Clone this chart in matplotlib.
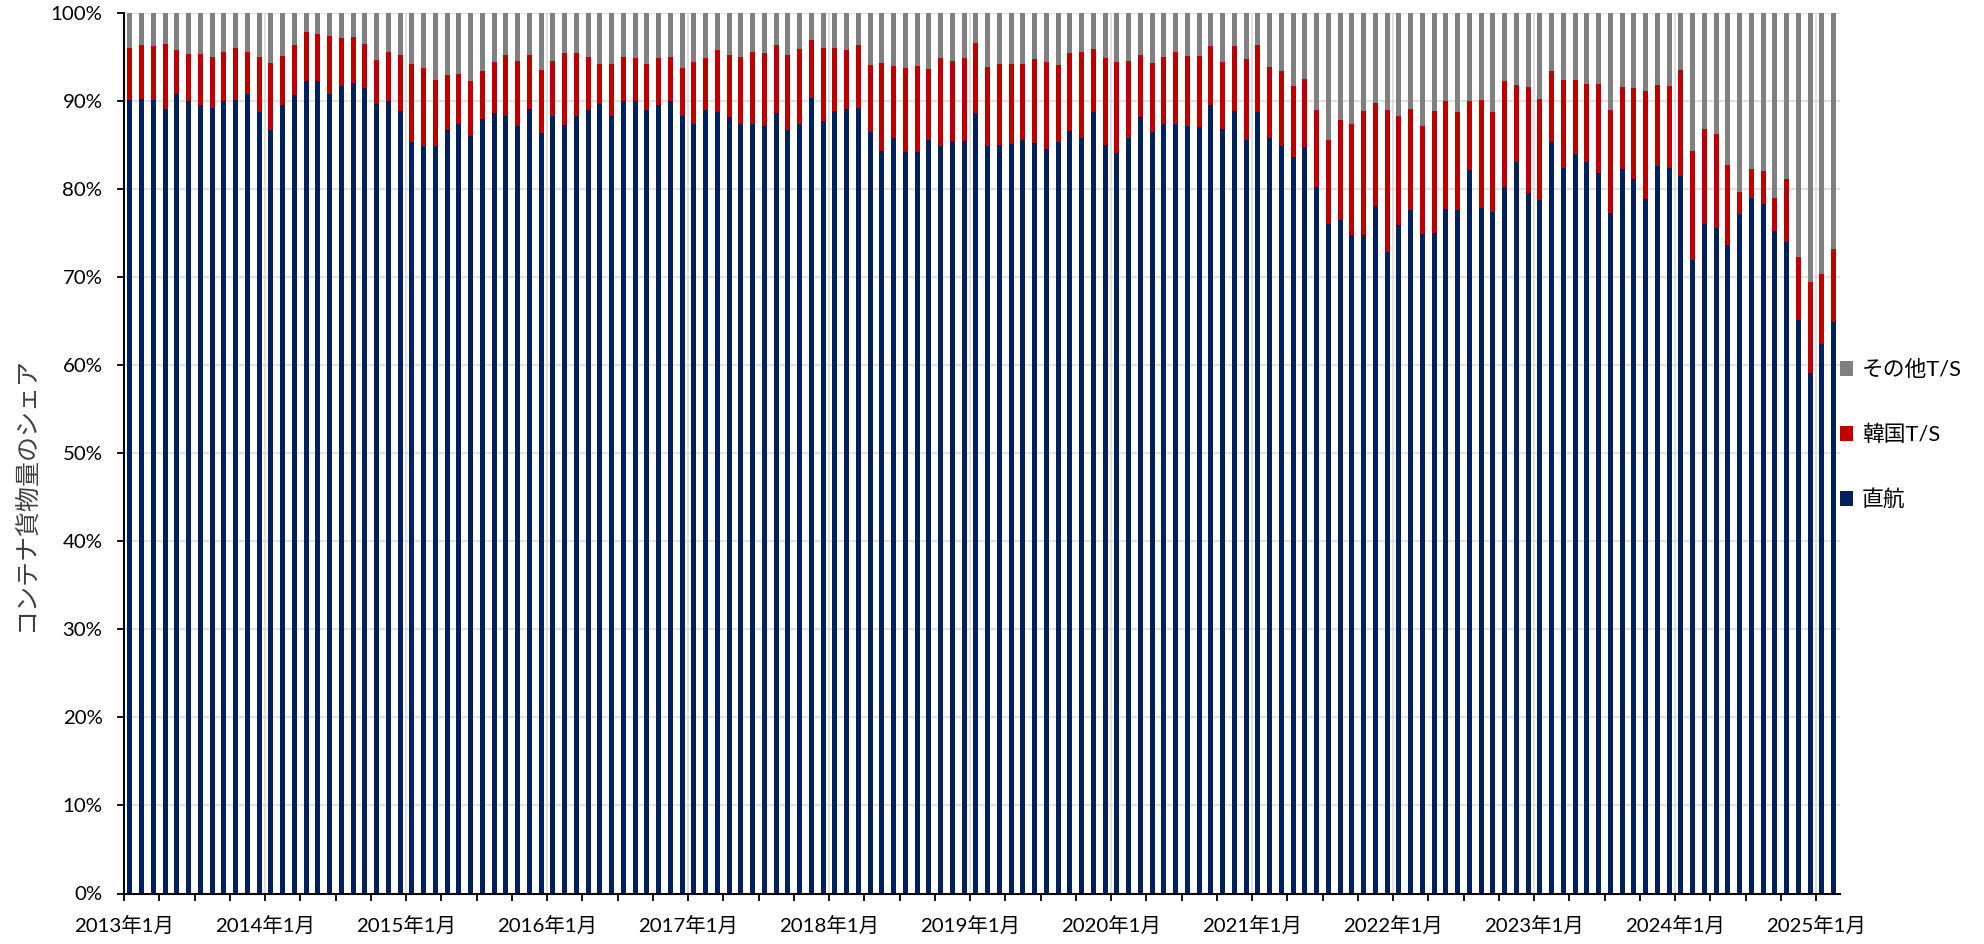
import numpy as np
import matplotlib
matplotlib.use("Agg")
import matplotlib.pyplot as plt
from matplotlib.ticker import FixedLocator

plt.rcParams['font.family'] = ['Lato', 'Noto Sans CJK JP', 'DejaVu Sans']

# Monthly shares (%), 2013-01 .. 2025-02
direct = [
    90.1, 90.2, 90.1, 89.1, 90.8, 90.0, 89.5, 89.2, 89.9, 90.1, 90.7, 88.7,
    86.7, 89.5, 90.6, 92.2, 92.2, 90.8, 91.7, 92.0, 91.4, 89.6, 90.0, 88.8,
    85.3, 84.9, 84.8, 86.7, 87.3, 86.0, 87.9, 88.6, 88.3, 87.1, 89.1, 86.3,
    88.2, 87.2, 88.2, 88.9, 89.6, 88.2, 90.0, 90.0, 88.9, 89.5, 90.0, 88.2,
    87.4, 88.9, 88.7, 88.1, 87.3, 87.3, 87.1, 88.6, 86.7, 87.3, 90.3, 87.7,
    88.8, 89.0, 89.2, 86.4, 84.3, 85.8, 84.2, 84.2, 85.5, 84.9, 85.4, 85.4,
    88.6, 84.8, 85.0, 85.1, 85.5, 85.2, 84.5, 85.3, 86.5, 85.7, 88.7, 85.0,
    84.0, 85.7, 88.1, 86.4, 87.4, 87.3, 87.1, 87.0, 89.5, 86.8, 88.8, 85.5,
    88.7, 85.8, 84.9, 83.6, 84.7, 80.2, 76.0, 76.5, 74.7, 74.8, 78.0, 72.8,
    75.9, 77.6, 74.9, 75.0, 77.7, 77.6, 82.1, 77.8, 77.4, 80.2, 83.0, 79.5,
    78.7, 85.3, 82.4, 83.9, 83.0, 81.8, 77.2, 82.2, 81.1, 78.8, 82.6, 82.3,
    81.4, 71.9, 76.0, 75.5, 73.6, 77.1, 78.9, 78.3, 75.2, 74.0, 65.1, 59.1,
    62.4, 64.9,
]
korea_ts = [
    5.9, 6.1, 6.1, 7.3, 4.9, 5.3, 5.8, 5.8, 5.6, 5.9, 4.8, 6.3,
    7.6, 5.6, 5.7, 5.6, 5.4, 6.5, 5.4, 5.2, 5.0, 5.0, 5.5, 6.4,
    8.9, 8.8, 7.5, 6.2, 5.7, 6.2, 5.5, 5.8, 6.9, 7.4, 6.1, 7.2,
    6.3, 8.2, 7.2, 6.0, 4.6, 5.9, 5.0, 4.8, 5.2, 5.3, 5.0, 5.5,
    7.0, 5.9, 7.0, 7.1, 7.7, 8.2, 8.3, 7.7, 8.5, 8.6, 6.6, 8.3,
    7.2, 6.8, 7.1, 7.6, 10.0, 8.1, 9.5, 9.7, 8.1, 9.9, 9.1, 9.4,
    7.9, 9.0, 9.2, 9.0, 8.6, 9.5, 9.9, 8.7, 8.9, 9.8, 7.2, 9.8,
    10.4, 8.8, 7.1, 7.9, 7.5, 8.2, 8.0, 8.1, 6.7, 7.6, 7.4, 9.2,
    7.6, 8.0, 8.5, 8.1, 7.8, 8.7, 9.5, 11.3, 12.7, 14.0, 11.7, 16.1,
    12.3, 11.5, 12.2, 13.8, 12.2, 11.1, 7.9, 12.3, 11.3, 12.0, 8.8, 12.1,
    11.5, 8.1, 9.9, 8.4, 8.9, 10.1, 11.7, 9.4, 10.3, 12.3, 9.2, 9.4,
    12.1, 12.4, 10.8, 10.7, 9.1, 2.5, 3.3, 3.7, 3.7, 7.1, 7.1, 10.3,
    7.9, 8.3,
]
other_ts = [
    4.0, 3.7, 3.8, 3.6, 4.3, 4.7, 4.7, 5.0, 4.5, 4.0, 4.5, 5.0,
    5.7, 4.9, 3.7, 2.2, 2.4, 2.7, 2.9, 2.8, 3.6, 5.4, 4.5, 4.8,
    5.8, 6.3, 7.7, 7.1, 7.0, 7.8, 6.6, 5.6, 4.8, 5.5, 4.8, 6.5,
    5.5, 4.6, 4.6, 5.1, 5.8, 5.9, 5.0, 5.2, 5.9, 5.2, 5.0, 6.3,
    5.6, 5.2, 4.3, 4.8, 5.0, 4.5, 4.6, 3.7, 4.8, 4.1, 3.1, 4.0,
    4.0, 4.2, 3.7, 6.0, 5.7, 6.1, 6.3, 6.1, 6.4, 5.2, 5.5, 5.2,
    3.5, 6.2, 5.8, 5.9, 5.9, 5.3, 5.6, 6.0, 4.6, 4.5, 4.1, 5.2,
    5.6, 5.5, 4.8, 5.7, 5.1, 4.5, 4.9, 4.9, 3.8, 5.6, 3.8, 5.3,
    3.7, 6.2, 6.6, 8.3, 7.5, 11.1, 14.5, 12.2, 12.6, 11.2, 10.3, 11.1,
    11.8, 10.9, 12.9, 11.2, 10.1, 11.3, 10.0, 9.9, 11.3, 7.8, 8.2, 8.4,
    9.8, 6.6, 7.7, 7.7, 8.1, 8.1, 11.1, 8.4, 8.6, 8.9, 8.2, 8.3,
    6.5, 15.7, 13.2, 13.8, 17.3, 20.4, 17.8, 18.0, 21.1, 18.9, 27.8, 30.6,
    29.7, 26.8,
]
year_labels = ['2013年1月', '2014年1月', '2015年1月', '2016年1月', '2017年1月',
               '2018年1月', '2019年1月', '2020年1月', '2021年1月', '2022年1月',
               '2023年1月', '2024年1月', '2025年1月']
series_names = ['直航', '韓国T/S', 'その他T/S']
colors = ['#002060', '#C00000', '#808080']
y_ticks = [0, 10, 20, 30, 40, 50, 60, 70, 80, 90, 100]

W, H = 1984, 944
fig = plt.figure(figsize=(W / 100, H / 100), dpi=100)
ax = fig.add_axes([124 / W, 1 - 893.5 / H, (1839.5 - 124) / W, (893.5 - 12.5) / H])

d = np.array(direct)
k = np.array(korea_ts)
o = np.array(other_ts)
x = np.arange(len(d))
bw = 0.42
b1 = ax.bar(x, d, width=bw, color=colors[0], zorder=3)
b2 = ax.bar(x, k, bottom=d, width=bw, color=colors[1], zorder=3)
b3 = ax.bar(x, o, bottom=d + k, width=bw, color=colors[2], zorder=3)

ax.set_xlim(-0.5, len(d) - 0.5)
ax.set_ylim(0, 100)
ax.set_yticks(y_ticks)
ax.set_yticklabels([f'{v}%' for v in y_ticks])

major = [-0.5 + 12 * i for i in range(len(year_labels))]
ax.set_xticks(major)
ax.set_xticklabels(year_labels)
ax.xaxis.set_minor_locator(FixedLocator([-0.5 + 3 * i for i in range(len(d) // 3 + 1)]))

ax.tick_params(axis='both', which='both', direction='out', length=5, width=1.3,
               colors='black', labelsize=14.7, pad=10.5)
ax.tick_params(axis='x', which='major', pad=11)

ax.grid(True, axis='both', which='major', color='#d9d9d9', linewidth=1.1, zorder=0)
ax.set_axisbelow(True)

for s in ['top', 'right']:
    ax.spines[s].set_visible(False)
for s in ['left', 'bottom']:
    ax.spines[s].set_linewidth(1.5)
    ax.spines[s].set_color('black')
    ax.spines[s].set_zorder(5)

fig.text(25 / W, 1 - 495 / H, 'コンテナ貨物量のシェア', rotation=90,
         ha='center', va='center', fontsize=18, color='#404040')

fig.legend([b3, b2, b1], [series_names[2], series_names[1], series_names[0]],
           loc='center left', bbox_to_anchor=(1840 / W, 1 - 435 / H),
           frameon=False, fontsize=15.7, handlelength=0.6, handleheight=0.7,
           handletextpad=0.4, labelspacing=2.05, borderpad=0, borderaxespad=0)

fig.savefig('out.png', dpi=100)
